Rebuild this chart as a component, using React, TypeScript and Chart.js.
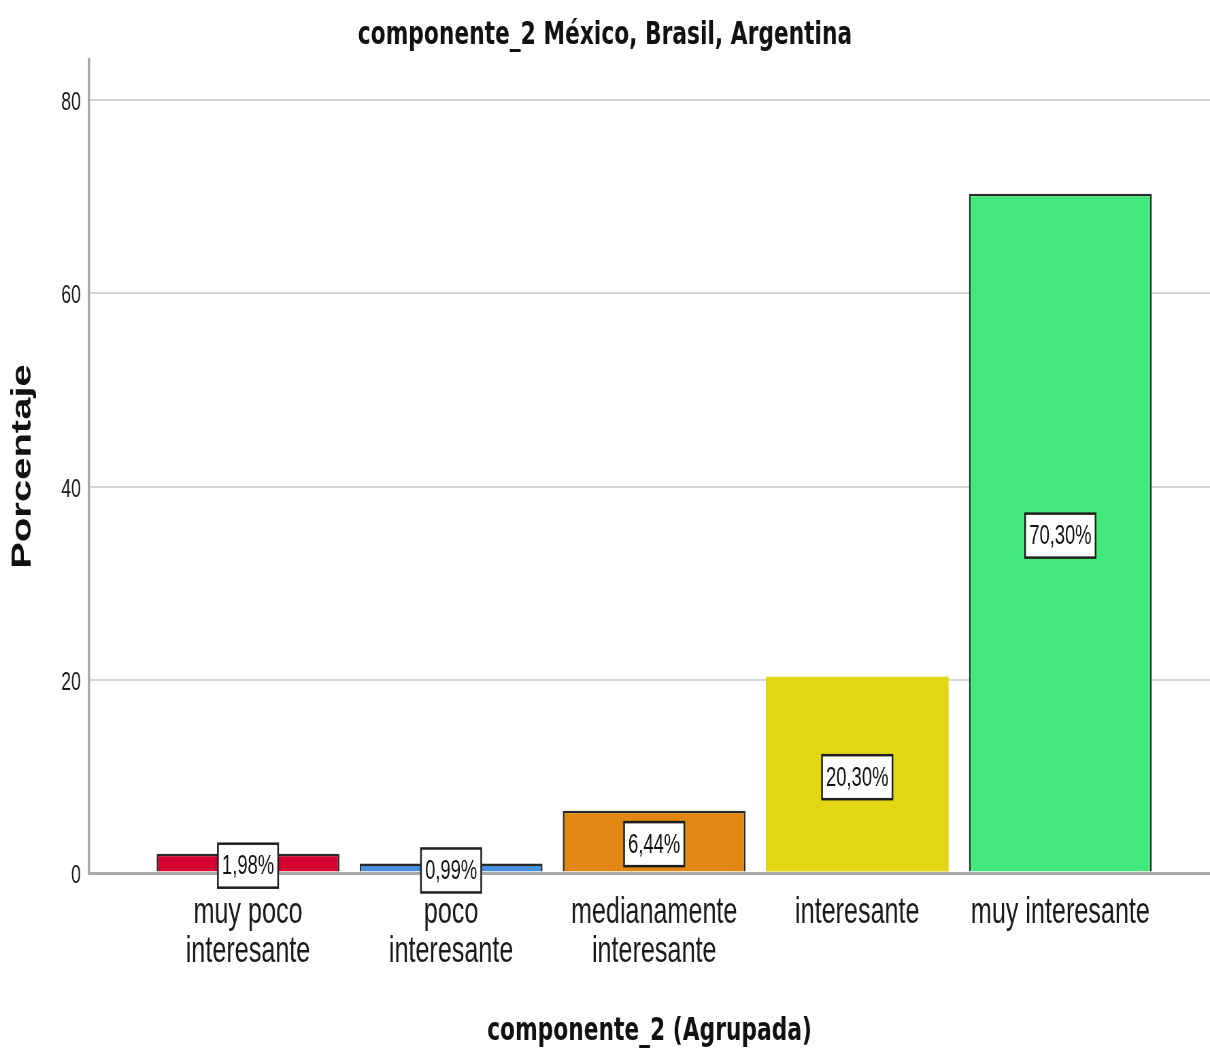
import React, { useEffect, useRef } from "react";
import { Chart, registerables } from "chart.js";

Chart.register(...registerables);

// ---- data ----
const categories: (string | string[])[] = [
  ["muy poco", "interesante"],
  ["poco", "interesante"],
  ["medianamente", "interesante"],
  "interesante",
  "muy interesante",
];
const values: number[] = [1.98, 0.99, 6.44, 20.3, 70.3];
const barColors: string[] = ["#d40032", "#4a90e2", "#e08812", "#e2d712", "#42e97a"];
const barBorderWidths: number[] = [2.5, 2.5, 2.5, 0, 2.5];
const yTickValues: number[] = [0, 20, 40, 60, 80];
const chartTitle = "componente_2 México, Brasil, Argentina";
const xAxisTitle = "componente_2 (Agrupada)";
const yAxisTitle = "Porcentaje";

// ---- page geometry (reference image is horizontally condensed) ----
const W = 1210;
const H = 1051;
const SX = 0.68016;
const IW = Math.round(W / SX);

const REG = "'Liberation Sans', Arial, sans-serif";
const BOLD_T = "'DejaVu Sans', 'Liberation Sans', sans-serif";

const fmt = (v: number) => v.toFixed(2).replace(".", ",") + "%";

const valueBoxes = {
  id: "valueBoxes",
  afterDatasetsDraw(chart: any) {
    const ctx = chart.ctx as CanvasRenderingContext2D;
    const meta = chart.getDatasetMeta(0);
    ctx.save();
    ctx.font = `27px ${REG}`;
    ctx.textAlign = "center";
    ctx.textBaseline = "middle";
    meta.data.forEach((bar: any, i: number) => {
      const { x, y, base } = bar.getProps(["x", "y", "base"], true);
      const cy = (y + base) / 2 + 3;
      const text = fmt(values[i]);
      const tw = ctx.measureText(text).width;
      const bw = tw + 12;
      const bh = 44;
      ctx.fillStyle = "#ffffff";
      ctx.fillRect(x - bw / 2, cy - bh / 2, bw, bh);
      ctx.strokeStyle = "#1e1e1e";
      ctx.lineWidth = 2.5;
      ctx.strokeRect(x - bw / 2, cy - bh / 2, bw, bh);
      ctx.fillStyle = "#111111";
      ctx.fillText(text, x, cy + 1);
    });
    ctx.restore();
  },
};

export default function App() {
  const ref = useRef<HTMLCanvasElement | null>(null);

  useEffect(() => {
    if (!ref.current) return;
    const chart = new Chart(ref.current, {
      type: "bar",
      data: {
        datasets: [
          {
            data: values.map((v, i) => ({ x: i + 1, y: v })),
            backgroundColor: barColors,
            borderColor: "#2a2a2a",
            borderWidth: barBorderWidths,
            barPercentage: 0.9,
            categoryPercentage: 1,
          },
        ],
      },
      options: {
        animation: false,
        responsive: false,
        maintainAspectRatio: false,
        devicePixelRatio: 1,
        layout: { padding: 0 },
        plugins: {
          legend: { display: false },
          tooltip: { enabled: false },
          title: {
            display: true,
            text: chartTitle,
            color: "#111111",
            font: { family: BOLD_T, size: 32, weight: "bold", lineHeight: 1.2 },
            padding: { top: 16, bottom: 5.6 },
          },
        },
        scales: {
          x: {
            type: "linear",
            offset: false,
            min: 0.217,
            max: 5.737,
            grid: { display: false, drawTicks: false, tickLength: 0, offset: false },
            border: { display: false },
            afterBuildTicks: (scale: any) => {
              scale.ticks = categories.map((_, i) => ({ value: i + 1 }));
            },
            afterFit: (scale: any) => {
              scale.height = 178;
            },
            ticks: {
              autoSkip: false,
              maxRotation: 0,
              minRotation: 0,
              padding: 20,
              color: "#1a1a1a",
              font: { family: REG, size: 37, lineHeight: 39 / 37 },
              callback: (v: any) => {
                const idx = Math.round(Number(v)) - 1;
                return categories[idx] ?? "";
              },
            },
            title: {
              display: true,
              text: xAxisTitle,
              color: "#111111",
              font: { family: BOLD_T, size: 32, weight: "bold", lineHeight: 1.2 },
              padding: { top: 0, bottom: 0 },
            },
          },
          y: {
            type: "linear",
            min: 0,
            max: 84.14,
            afterBuildTicks: (scale: any) => {
              scale.ticks = yTickValues.map((v) => ({ value: v }));
            },
            afterFit: (scale: any) => {
              scale.width = 89 / SX;
            },
            grid: {
              drawTicks: false,
              tickLength: 0,
              color: (c: any) => (c.tick && c.tick.value === 0 ? "#a9a9a9" : "#d4d4d4"),
              lineWidth: (c: any) => (c.tick && c.tick.value === 0 ? 3 : 2),
            },
            border: { display: true, color: "#a8a8a8", width: 3.5 },
            ticks: {
              padding: 12,
              labelOffset: 3,
              color: "#1a1a1a",
              font: { family: REG, size: 26 },
              callback: (v: any) => String(v),
            },
            title: {
              display: true,
              text: yAxisTitle,
              color: "#111111",
              font: { family: REG, size: 40, weight: "bold", lineHeight: 1.2 },
              padding: { top: 10, bottom: 0 },
            },
          },
        },
      } as any,
      plugins: [valueBoxes],
    });
    return () => chart.destroy();
  }, []);

  return (
    <div style={{ position: "absolute", left: 0, top: 0, width: W, height: H, background: "#ffffff" }}>
      <canvas
        ref={ref}
        width={IW}
        height={H}
        style={{ width: `${W}px`, height: `${H}px`, display: "block" }}
      />
    </div>
  );
}
